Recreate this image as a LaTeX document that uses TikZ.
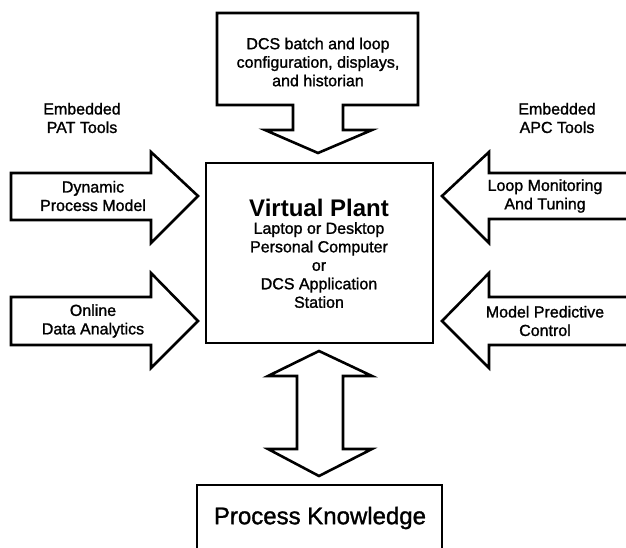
\documentclass[tikz,border=0pt]{standalone}
\usepackage{fontspec}
\setmainfont{Liberation Sans}
\newfontfamily\heavyfont{Liberation Sans}[FakeBold=1.3]
\begin{document}
\begin{tikzpicture}[x=1pt,y=-1pt,
  outl/.style={draw=black,line width=2.6pt,line join=miter,fill=white},
  lbl/.style={align=center,inner sep=0pt,font=\heavyfont\fontsize{16}{18.5}\selectfont},
  big/.style={align=center,inner sep=0pt,font=\heavyfont\fontsize{24}{28}\selectfont}]
\useasboundingbox (0,0) rectangle (626,548);
% top callout
\draw[outl] (217,13) -- (418,13) -- (418,105) -- (343,105) -- (343,130) -- (372,130)
  -- (318,153) -- (265,130) -- (293,130) -- (293,105) -- (217,105) -- cycle;
% central box
\draw[outl] (206,163) rectangle (433,343);
% left arrows
\draw[outl] (11,173) -- (151,173) -- (151,152) -- (198,196) -- (151,243) -- (151,220) -- (11,220) -- cycle;
\draw[outl] (11,297) -- (151,297) -- (151,273) -- (198,321) -- (151,368) -- (151,345) -- (11,345) -- cycle;
% right arrows
\draw[outl] (640,173) -- (489,173) -- (489,152) -- (442,196) -- (489,243) -- (489,219) -- (640,219);
\draw[outl] (640,297) -- (489,297) -- (489,273) -- (442,321) -- (489,368) -- (489,345) -- (640,345);
% double arrow
\draw[outl] (319,351) -- (372,376) -- (343,376) -- (343,449) -- (372,449) -- (319,476)
  -- (268,449) -- (297,449) -- (297,376) -- (268,376) -- cycle;
% process knowledge box
\draw[outl] (197,560) -- (197,485) -- (442,485) -- (442,560);
% texts
\node[lbl] (top) at (318,62) {DCS batch and loop\\configuration, displays,\\and historian};
\node[lbl] (pat) at (82,118) {Embedded\\PAT Tools};
\node[lbl] (apc) at (557,118) {Embedded\\APC Tools};
\node[lbl] (dpm) at (93,196) {Dynamic\\Process Model};
\node[lbl] (oda) at (93,321) {Online\\Data Analytics};
\node[lbl] (lmt) at (545,196) {Loop Monitoring\\And Tuning};
\node[lbl] (mpc) at (545,321) {Model Predictive\\Control};
\node[big,font=\bfseries\fontsize{24}{28}\selectfont] (vp) at (319,208) {Virtual Plant};
\node[lbl,anchor=north] (vpt) at (319,222) {Laptop or Desktop\\Personal Computer\\or\\DCS Application\\Station};
\node[big] (pk) at (320,518) {Process Knowledge};
\end{tikzpicture}
\end{document}
